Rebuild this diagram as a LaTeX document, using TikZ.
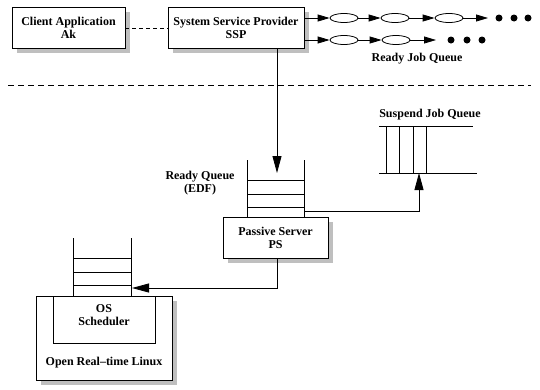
\documentclass[tikz,border=0pt]{standalone}
\usepackage{fontspec}
\setmainfont{Liberation Serif}
\usetikzlibrary{arrows.meta,shapes.geometric}
\tikzset{
  lbl/.style={font=\fontsize{12}{13}\selectfont\bfseries, align=center, inner sep=0pt},
  boxn/.style={draw, line width=0.9pt, fill=white, inner sep=0pt},
  shadowbox/.style={fill=black!25, draw=none},
  ln/.style={line width=0.8pt},
  bigarrow/.style={ln, -{Triangle[length=17pt,width=9pt]}},
  smallarrow/.style={ln, -{Triangle[length=12pt,width=7pt]}},
  jobell/.style={draw, ellipse, line width=0.8pt, minimum width=28pt, minimum height=9pt, inner sep=0pt},
  dotn/.style={circle, fill=black, minimum size=7pt, inner sep=0pt},
}
\begin{document}
\begin{tikzpicture}[x=1pt,y=-1pt]
\useasboundingbox (0,0) rectangle (540,389);
% Client application
\fill[shadowbox] (17,12) rectangle (130,53);
\draw[boxn] (12,7) rectangle (125,48);
\node[lbl] (ca) at (68.5,27.5) {Client Application\\Ak};
\coordinate (caR) at (125,28);
% SSP
\fill[shadowbox] (173,12) rectangle (309,53);
\draw[boxn] (168,7) rectangle (304,48);
\node[lbl] (ssp) at (236,27.5) {System Service Provider\\SSP};
\coordinate (sspL) at (168,28);
\draw[ln, dashed, dash pattern=on 4pt off 3pt] (caR) -- (sspL);
% Ready job queue row 1
\coordinate (r1s) at (304,18);
\node[jobell] (e11) at (344,18) {};
\node[jobell] (e12) at (395,18) {};
\node[jobell] (e13) at (449,18) {};
\coordinate (r1e) at (488,18);
\node[dotn] (d11) at (499,18) {};
\node[dotn] (d12) at (514,18) {};
\node[dotn] (d13) at (528,18) {};
\draw[smallarrow] (r1s) -- (e11);
\draw[smallarrow] (e11) -- (e12);
\draw[smallarrow] (e12) -- (e13);
\draw[smallarrow] (e13) -- (r1e);
% row 2
\coordinate (r2s) at (304,40);
\node[jobell] (e21) at (344,40) {};
\node[jobell] (e22) at (396,40) {};
\coordinate (r2e) at (436,40);
\node[dotn] (d21) at (451,40) {};
\node[dotn] (d22) at (467,40) {};
\node[dotn] (d23) at (482,40) {};
\draw[smallarrow] (r2s) -- (e21);
\draw[smallarrow] (e21) -- (e22);
\draw[smallarrow] (e22) -- (r2e);
\node[lbl] (rjq) at (417,59) {Ready Job Queue};
% separator
\coordinate (sepL) at (8,85);
\coordinate (sepR) at (531,85);
\draw[ln, dashed, dash pattern=on 6pt off 4pt] (sepL) -- (sepR);
% arrow SSP -> ready queue
\coordinate (sspB) at (277,48);
\coordinate (rqT) at (277,173);
\draw[bigarrow] (sspB) -- (rqT);
% ready queue stack
\draw[ln] (247,160) -- (247,217);
\draw[ln] (304,160) -- (304,217);
\foreach \yy in {180,194,207} \draw[ln] (247,\yy) -- (304,\yy);
\node[lbl] (rql) at (200,183.5) {Ready Queue\\(EDF)};
% PS box
\fill[shadowbox] (228,222) rectangle (333,263);
\draw[boxn] (223,217) rectangle (328,258);
\node[lbl] (ps) at (275.5,238) {Passive Server\\PS};
% suspend queue
\node[lbl] (sjq) at (430,115) {Suspend Job Queue};
\draw[ln] (379,126) -- (473,126);
\draw[ln] (379,173) -- (477,173);
\foreach \xx in {386,399,413,426} \draw[ln] (\xx,126) -- (\xx,173);
\coordinate (rqR) at (304,211);
\coordinate (sjB) at (419,173);
\draw[bigarrow] (rqR) -| (sjB);
% OS stack
\draw[ln] (73,238) -- (73,296);
\draw[ln] (131,238) -- (131,296);
\foreach \yy in {258,272,285} \draw[ln] (73,\yy) -- (131,\yy);
% Linux box
\fill[shadowbox] (41,301) rectangle (177,385);
\draw[boxn] (36,296) rectangle (172,380);
\draw[boxn] (53,296) rectangle (155,343);
\node[lbl] (os) at (104,315.5) {OS\\Scheduler};
\node[lbl] (lin) at (104,363) {Open Real--time Linux};
% PS -> OS queue
\coordinate (psB) at (277,258);
\coordinate (osQ) at (132,288);
\draw[bigarrow] (psB) |- (osQ);
\end{tikzpicture}
\end{document}
